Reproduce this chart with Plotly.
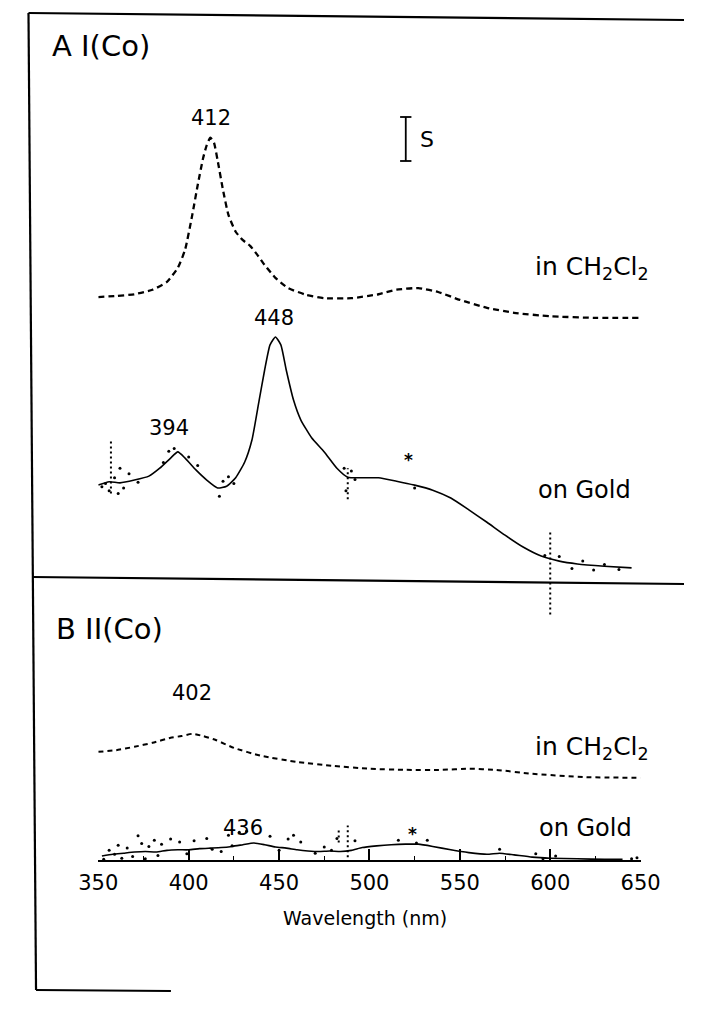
import plotly.graph_objects as go

W, H = 704, 1016

# ---------------- data (wavelength nm, relative absorbance units) -------------
# Panel A, I(Co): solution spectrum (dashed) and film on gold (solid)
a_sol_nm = [350, 360, 370, 380, 388, 394, 398, 402, 405, 408, 410, 412, 414, 416, 419, 422, 426, 430,
            434, 438, 442, 448, 455, 465, 475, 490, 505, 515, 527, 538, 550, 565, 580, 600, 625, 650]
a_sol_abs = [4.99, 5.01, 5.04, 5.12, 5.26, 5.51, 5.83, 6.45, 6.98, 7.46, 7.69, 7.82, 7.73, 7.42, 6.89,
             6.45, 6.15, 6.00, 5.90, 5.74, 5.56, 5.33, 5.15, 5.03, 4.97, 4.97, 5.04, 5.12, 5.15, 5.08,
             4.94, 4.80, 4.71, 4.65, 4.62, 4.62]
a_gold_nm = [350, 356, 362, 370, 378, 384, 390, 394, 398, 404, 410, 416, 421, 426, 431, 435, 439, 442,
             445, 448, 451, 454, 458, 462, 468, 475, 482, 488, 495, 505, 515, 525, 535, 545, 555, 565,
             575, 585, 595, 605, 615, 630, 645]
a_gold_abs = [1.65, 1.71, 1.69, 1.74, 1.81, 1.95, 2.13, 2.24, 2.13, 1.92, 1.74, 1.60, 1.63, 1.78, 2.06,
              2.45, 3.16, 3.69, 4.14, 4.28, 4.14, 3.69, 3.16, 2.81, 2.49, 2.24, 1.95, 1.79, 1.78, 1.78,
              1.72, 1.65, 1.56, 1.42, 1.21, 0.99, 0.76, 0.55, 0.39, 0.30, 0.25, 0.21, 0.18]
a_noise_nm = [352, 354, 356, 359, 361, 362, 364, 367, 372, 386, 389, 392, 400, 405, 417, 419, 422, 425,
              486, 487, 490, 492, 525, 597, 605, 612, 618, 624, 630, 638]
a_noise_abs = [1.62, 1.68, 1.55, 1.78, 1.50, 1.95, 1.60, 1.85, 1.70, 2.05, 2.25, 2.30, 2.15, 2.00, 1.45,
               1.72, 1.80, 1.68, 1.95, 1.55, 1.90, 1.75, 1.60, 0.40, 0.38, 0.17, 0.30, 0.14, 0.24, 0.15]
a_spike_nm = [357, 488, 600]
a_spike_lo = [1.50, 1.40, -0.65]
a_spike_hi = [2.45, 1.95, 0.85]

# Panel B, II(Co)
b_sol_nm = [350, 360, 370, 380, 390, 396, 402, 408, 415, 425, 440, 460, 480, 500, 520, 540, 555, 570,
            590, 620, 650]
b_sol_abs = [2.01, 2.04, 2.10, 2.17, 2.26, 2.29, 2.33, 2.29, 2.22, 2.08, 1.94, 1.83, 1.76, 1.71, 1.69,
             1.69, 1.71, 1.69, 1.62, 1.56, 1.55]
b_gold_nm = [352, 358, 364, 370, 376, 382, 388, 394, 400, 406, 412, 418, 424, 430, 436, 442, 448, 454,
             460, 466, 472, 478, 484, 490, 496, 504, 512, 520, 527, 535, 545, 555, 565, 572, 580, 590,
             600, 615, 630, 640]
b_gold_abs = [0.16, 0.19, 0.21, 0.23, 0.24, 0.23, 0.26, 0.27, 0.27, 0.29, 0.30, 0.31, 0.33, 0.36, 0.39,
              0.36, 0.32, 0.30, 0.27, 0.25, 0.24, 0.25, 0.24, 0.26, 0.31, 0.34, 0.36, 0.37, 0.37, 0.33,
              0.27, 0.22, 0.19, 0.21, 0.18, 0.14, 0.12, 0.11, 0.10, 0.10]
b_noise_nm = [353, 356, 359, 361, 363, 366, 369, 372, 374, 376, 378, 381, 383, 385, 390, 395, 399, 403,
              410, 413, 418, 422, 424, 428, 432, 445, 450, 455, 458, 462, 470, 475, 479, 482, 492, 516,
              526, 532, 572, 592, 596, 603, 645, 648]
b_noise_abs = [0.10, 0.26, 0.19, 0.35, 0.12, 0.30, 0.15, 0.52, 0.38, 0.11, 0.33, 0.44, 0.17, 0.37, 0.46,
               0.41, 0.20, 0.43, 0.47, 0.28, 0.24, 0.53, 0.34, 0.58, 0.60, 0.51, 0.26, 0.46, 0.53, 0.41,
               0.21, 0.32, 0.26, 0.47, 0.43, 0.44, 0.39, 0.44, 0.28, 0.20, 0.11, 0.16, 0.11, 0.13]
b_spike_nm = [488, 483]
b_spike_lo = [0.05, 0.40]
b_spike_hi = [0.70, 0.66]

tick_vals = [350, 400, 450, 500, 550, 600, 650]

# ---------------- figure ----------------
FONT = "DejaVu Sans, Liberation Sans, Arial, sans-serif"


def px(x):
    return x / W


def py(y):
    return 1 - y / H


fig = go.Figure()


def axes_of(ax):
    return ("x", "y") if ax == 1 else ("x2", "y2")


def curve(xs, ys, ax, dash=None, width=1.6):
    xa, ya = axes_of(ax)
    fig.add_trace(go.Scatter(x=xs, y=ys, mode="lines", xaxis=xa, yaxis=ya,
                             line=dict(color="black", width=width, dash=dash, shape="spline",
                                       smoothing=0.5), showlegend=False, hoverinfo="skip"))


def dots(xs, ys, ax):
    xa, ya = axes_of(ax)
    fig.add_trace(go.Scatter(x=xs, y=ys, mode="markers", xaxis=xa, yaxis=ya, cliponaxis=False,
                             marker=dict(color="black", size=3), showlegend=False, hoverinfo="skip"))


def spikes(nms, los, his, ax):
    xa, ya = axes_of(ax)
    for nm, lo, hi in zip(nms, los, his):
        fig.add_trace(go.Scatter(x=[nm, nm], y=[lo, hi], mode="lines", xaxis=xa, yaxis=ya,
                                 line=dict(color="black", width=2, dash="2px,3px"),
                                 showlegend=False, hoverinfo="skip"))


curve(a_sol_nm, a_sol_abs, 1, dash="6px,4px", width=2.3)
curve(a_gold_nm, a_gold_abs, 1, width=1.6)
dots(a_noise_nm, a_noise_abs, 1)
spikes(a_spike_nm, a_spike_lo, a_spike_hi, 1)

curve(b_sol_nm, b_sol_abs, 2, dash="5px,4px", width=2.0)
curve(b_gold_nm, b_gold_abs, 2, width=1.6)
dots(b_noise_nm, b_noise_abs, 2)
spikes(b_spike_nm, b_spike_lo, b_spike_hi, 2)

X0, X1 = 83, 658          # pixel positions of 350 and 650 nm
UNIT = 56.3               # pixels per absorbance unit
A_BASE, A_LOW, A_TOP = 578, 650, 15
B_ZERO, B_AXIS, B_TOP = 865, 860, 578
xdom = [px(X0), px(X1)]

fig.update_layout(
    width=W, height=H, margin=dict(l=0, r=0, t=0, b=0),
    paper_bgcolor="white", plot_bgcolor="rgba(0,0,0,0)",
    font=dict(family=FONT, color="black"),
    xaxis=dict(domain=xdom, range=[350, 650], anchor="y", visible=False),
    yaxis=dict(domain=[py(A_LOW), py(A_TOP)],
               range=[-(A_LOW - A_BASE) / UNIT, (A_BASE - A_TOP) / UNIT], visible=False),
    xaxis2=dict(domain=xdom, range=[350, 650], anchor="y2", showline=True, linecolor="black",
                linewidth=2, ticks="inside", ticklen=11, tickwidth=1.8, tickcolor="black",
                tickvals=tick_vals, ticktext=[str(v) for v in tick_vals], showgrid=False,
                zeroline=False, tickfont=dict(size=21, family=FONT), ticklabelstandoff=3,
                minor=dict(ticks="inside", ticklen=4, tickwidth=1.4, tickcolor="black", dtick=25)),
    yaxis2=dict(domain=[py(B_AXIS), py(B_TOP)],
                range=[(B_ZERO - B_AXIS) / UNIT, (B_ZERO - B_TOP) / UNIT], visible=False),
)


def ann(text, x, y, size=21, xanchor="center"):
    fig.add_annotation(text=text, x=px(x), y=py(y), xref="paper", yref="paper", showarrow=False,
                       xanchor=xanchor, yanchor="middle", font=dict(size=size, color="black",
                                                                     family=FONT))


ann("A I(Co)", 32, 46, 29, "left")
ann("412", 202, 118)
ann("S", 431, 140, 22)
ann("in CH<sub>2</sub>Cl<sub>2</sub>", 544, 268, 25, "left")
ann("448", 269, 318)
ann("394", 158, 428)
ann("<b>*</b>", 412, 460, 17)
ann("on Gold", 547, 490, 24, "left")
ann("B II(Co)", 36, 629, 29, "left")
ann("402", 182, 693)
ann("in CH<sub>2</sub>Cl<sub>2</sub>", 544, 748, 25, "left")
ann("436", 236, 828)
ann("on Gold", 548, 828, 24, "left")
ann("<b>*</b>", 416, 834, 17)
ann("Wavelength (nm)", 366, 918, 19)


def seg(x0, y0, x1, y1, w=2.0):
    fig.add_shape(type="line", xref="paper", yref="paper", x0=px(x0), y0=py(y0), x1=px(x1),
                  y1=py(y1), line=dict(color="black", width=w))


# frame and panel divider
seg(9, 13, 704, 20, 2.2)
seg(9, 13, 17, 990, 2.2)
seg(17, 990, 160, 991, 2.2)
seg(13, 577, 704, 584, 2.2)
# scale bar
seg(409, 117, 409, 161, 1.8)
seg(403, 117, 415, 117, 1.8)
seg(403, 161, 415, 161, 1.8)

fig.write_html("out.html", config={"displayModeBar": False},
               post_script="document.body.style.margin='0';document.body.style.overflow='hidden';")
